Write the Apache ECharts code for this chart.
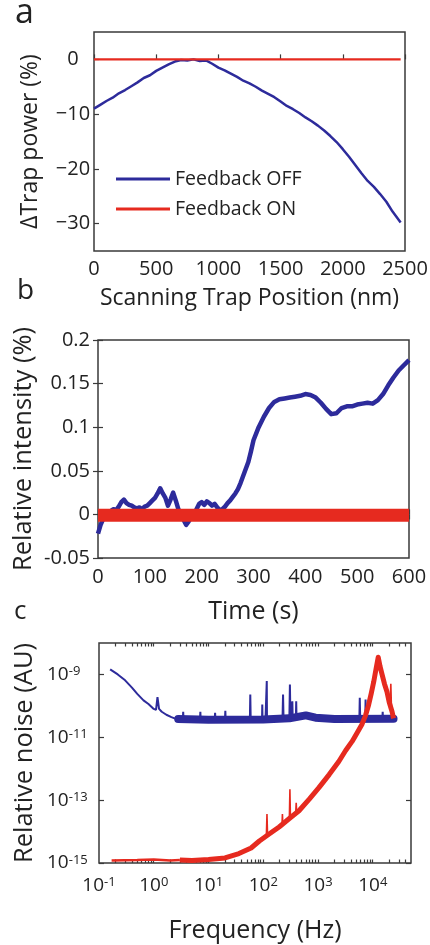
<!DOCTYPE html>
<html><head><meta charset="utf-8">
<script src="https://cdn.jsdelivr.net/npm/echarts@6/dist/echarts.min.js"></script>
<style>html,body{margin:0;padding:0;background:#fff}#c{width:430px;height:945px}</style>
</head><body><div id="c"></div>
<script>
// ---------- Panel a ----------
const posA = [0,50,100,150,200,250,300,350,400,450,500,550,600,650,700,750,800,850,900,950,1000,1050,1100,1150,1200,1250,1300,1350,1400,1450,1500,1550,1600,1650,1700,1750,1800,1850,1900,1950,2000,2050,2100,2150,2200,2250,2300,2350,2400,2465];
const offA = [-9.0,-8.3,-7.6,-7.0,-6.2,-5.6,-4.9,-4.2,-3.4,-2.9,-2.1,-1.5,-0.9,-0.4,-0.1,-0.2,0.0,-0.3,-0.2,-0.8,-1.5,-2.0,-2.6,-3.2,-3.9,-4.4,-5.0,-5.7,-6.3,-6.9,-7.7,-8.5,-9.1,-9.8,-10.6,-11.3,-12.1,-13.0,-14.0,-15.1,-16.4,-17.8,-19.3,-20.8,-22.2,-23.3,-24.6,-26.0,-27.8,-29.8];
const posOnA = [0, 2465];
const onA = [0, 0];
const xTicksA = [0,500,1000,1500,2000,2500];
const yTicksA = [-30,-20,-10,0];

// ---------- Panel b ----------
const timeB = [0,5,10,15,20,25,30,35,40,45,50,55,60,65,70,75,80,85,90,95,100,105,110,115,120,125,130,135,140,145,150,155,160,165,170,175,180,185,190,195,200,205,210,215,220,225,230,235,240,245,250,255,260,265,270,275,280,285,290,295,300,310,320,330,340,350,360,370,380,390,400,410,420,430,440,450,460,470,480,490,500,510,520,530,540,550,560,570,580,590,600];
const offB = [-0.022,-0.012,-0.005,-0.002,0.002,0.004,0.006,0.005,0.009,0.014,0.017,0.013,0.011,0.010,0.008,0.007,0.008,0.006,0.009,0.010,0.013,0.016,0.019,0.024,0.030,0.024,0.019,0.010,0.017,0.025,0.016,0.006,0.001,-0.006,-0.012,-0.008,-0.003,-0.002,0.006,0.012,0.014,0.011,0.015,0.013,0.010,0.012,0.008,0.005,0.006,0.009,0.013,0.016,0.020,0.024,0.029,0.036,0.044,0.052,0.060,0.072,0.085,0.100,0.112,0.122,0.129,0.132,0.133,0.134,0.135,0.136,0.138,0.137,0.134,0.128,0.121,0.115,0.116,0.122,0.124,0.124,0.126,0.127,0.128,0.127,0.131,0.138,0.148,0.157,0.165,0.171,0.177];
const timeOnB = [0, 600];
const onB = [-0.001, -0.001];

// ---------- Panel c ----------
// [frequency Hz, relative noise]
const offC = [[0.16,1.45e-9],[0.22,1.0e-9],[0.3,6.5e-10],[0.4,3.8e-10],[0.5,2.4e-10],[0.65,1.5e-10],[0.8,1.15e-10],[1.0,8e-11],[1.1,7.5e-11],[1.17,1.9e-10],[1.25,8e-11],[1.4,6.5e-11],[1.7,5.2e-11],[2.1,4.4e-11],[2.6,3.8e-11],[3.0,3.6e-11],[3.4,3.7e-11],[3.45,6.5e-11],[3.5,3.7e-11],[5,3.6e-11],[7,3.7e-11],[7.1,6.5e-11],[7.2,3.6e-11],[10,3.6e-11],[13,3.7e-11],[13.2,6e-11],[13.4,3.6e-11],[20,3.7e-11],[20.3,7e-11],[20.6,3.6e-11],[30,3.6e-11],[40,3.7e-11],[57,3.7e-11],[58,2.3e-10],[59,3.7e-11],[80,3.8e-11],[95,3.7e-11],[96,1.1e-10],[97,3.7e-11],[110,3.8e-11],[115,3.8e-11],[116,6.2e-10],[117,3.8e-11],[150,3.8e-11],[225,3.8e-11],[230,2.3e-10],[235,3.8e-11],[270,3.8e-11],[300,4e-11],[307,4.8e-10],[314,4e-11],[335,4.2e-11],[340,1.4e-10],[345,4.2e-11],[395,4.4e-11],[400,1.4e-10],[405,4.4e-11],[500,5e-11],[600,5.5e-11],[700,5.2e-11],[900,4.4e-11],[1500,3.9e-11],[3000,3.8e-11],[5700,3.8e-11],[5800,1.8e-10],[5900,3.8e-11],[7300,3.8e-11],[7400,1.6e-10],[7500,3.8e-11],[12000,3.8e-11],[15000,3.9e-11],[15200,6.5e-11],[15400,3.9e-11],[20000,3.9e-11],[24000,3.9e-11]];
const offFloorC = [[2.8,3.8e-11],[10,3.6e-11],[100,3.7e-11],[300,4e-11],[600,5e-11],[900,4.2e-11],[2000,3.8e-11],[24000,3.9e-11]];
const onLowC = [[0.17,1.2e-15],[0.5,1.25e-15],[1,1.3e-15],[2,1.2e-15],[3,1.25e-15]];
const onC = [[3,1.25e-15],[5,1.2e-15],[10,1.3e-15],[20,1.45e-15],[36,2e-15],[60,3e-15],[85,5e-15],[130,8.5e-15],[195,1.4e-14],[300,2.6e-14],[450,4.6e-14],[700,1.1e-13],[1040,2.5e-13],[1600,6.5e-13],[2400,1.7e-12],[3200,3.8e-12],[4200,7.4e-12],[5200,1.4e-11],[6300,2.5e-11],[7400,5e-11],[8400,1.07e-10],[9400,2.5e-10],[10400,5.7e-10],[11500,1.5e-9],[12600,3.5e-9],[13600,1.8e-9],[14800,1e-9],[16400,5e-10],[18200,2.8e-10],[20000,1.3e-10],[22500,6.6e-11],[24000,4e-11]];
const onSpikesC = [[114,7e-15],[117,3.6e-14],[120,7.5e-15],[170,null],[220,1.6e-14],[224,3.6e-14],[228,1.7e-14],[260,null],[300,2.5e-14],[307,2.2e-13],[314,2.7e-14],[350,null],[392,3.9e-14],[400,8.3e-14],[408,4.1e-14],[1000,null],[20800,1.1e-10],[21400,5e-10],[22000,8e-11]];
const xMinorC = [0.2,0.3,0.4,0.5,0.6,0.7,0.8,0.9,1,2,3,4,5,6,7,8,9,10,20,30,40,50,60,70,80,90,100,200,300,400,500,600,700,800,900,1000,2000,3000,4000,5000,6000,7000,8000,9000,10000,20000,30000,40000];
const yTicksC = [1e-15,1e-13,1e-11,1e-9];

const FONT = '"Open Sans", "Noto Sans", sans-serif';
const BLUE = '#2d2b9b', RED = '#e62a1f', INK = '#222', FRAME = '#3a3a3a';
const zip = (xs, ys) => xs.map((x, i) => [x, ys[i]]);

const tick = (extra) => Object.assign({show: true, inside: true, length: 5, lineStyle: {color: FRAME, width: 1.2}}, extra || {});
const noLine = {show: false};
const noSplit = {show: false};
const nameStyle = (s) => ({fontSize: s, color: INK, fontFamily: FONT});
const labStyle = {fontSize: 20, color: INK, fontFamily: FONT};

const supFmt = (v) => {
  const l = Math.log10(v); const e = Math.round(l);
  if (Math.abs(l - e) > 1e-6) return '';
  return '{b|10}{s|' + e + '}';
};
const supFmtOdd = (v) => {
  const l = Math.log10(v); const e = Math.round(l);
  if (Math.abs(l - e) > 1e-6 || e % 2 === 0) return '';
  return '{b|10}{s|' + e + '}';
};
const rich = {
  b: {fontSize: 19, lineHeight: 19, verticalAlign: 'bottom', color: INK, fontFamily: FONT},
  s: {fontSize: 13, lineHeight: 13, verticalAlign: 'top', padding: [0, 0, 12, 0], color: INK, fontFamily: FONT}
};
const gridBase = {show: true, borderColor: FRAME, borderWidth: 1.5, backgroundColor: 'transparent', containLabel: false, outerBoundsMode: 'none'};

const option = {
  animation: false,
  backgroundColor: '#fff',
  textStyle: {fontFamily: FONT},
  grid: [
    Object.assign({left: 94, top: 32, width: 311, height: 219}, gridBase),
    Object.assign({left: 98, top: 340, width: 311, height: 218}, gridBase),
    Object.assign({left: 99, top: 643, width: 312, height: 220}, gridBase)
  ],
  legend: {
    data: ['Feedback OFF', 'Feedback ON'], orient: 'vertical', left: 116, top: 169,
    itemWidth: 54, itemHeight: 3, icon: 'rect', itemGap: 10, padding: 0,
    textStyle: {fontSize: 19.5, color: INK, fontFamily: FONT}
  },
  graphic: [
    {type: 'text', left: 15, top: -4, style: {text: 'a', fontSize: 34, fontFamily: FONT, fill: INK}},
    {type: 'text', left: 17, top: 277, style: {text: 'b', fontSize: 28, fontFamily: FONT, fill: INK}},
    {type: 'text', left: 14, top: 599, style: {text: 'c', fontSize: 26, fontFamily: FONT, fill: INK}}
  ],
  xAxis: [
    {gridIndex: 0, type: 'value', min: 0, max: 2500, interval: 500, axisLine: noLine, splitLine: noSplit,
     axisTick: tick({customValues: xTicksA}),
     axisLabel: Object.assign({margin: 8, customValues: xTicksA, formatter: v => String(v)}, labStyle),
     name: 'Scanning Trap Position (nm)', nameLocation: 'middle', nameGap: 35.5, nameMoveOverlap: false, nameTextStyle: nameStyle(23)},
    {gridIndex: 1, type: 'value', min: 0, max: 600, interval: 100, position: 'bottom', axisLine: noLine, splitLine: noSplit,
     axisTick: tick(), axisLabel: Object.assign({margin: 9, formatter: v => String(v)}, labStyle),
     name: 'Time (s)', nameLocation: 'middle', nameGap: 41.5, nameMoveOverlap: false, nameTextStyle: nameStyle(25)},
    {gridIndex: 1, type: 'value', min: 0, max: 600, interval: 100, position: 'top', axisLine: noLine, splitLine: noSplit,
     axisTick: tick(), axisLabel: {show: false}},
    {gridIndex: 2, type: 'log', logBase: 10, min: 0.1, max: 5e4, position: 'bottom', axisLine: noLine, splitLine: noSplit,
     axisTick: tick({length: 3.5, customValues: xMinorC}), axisLabel: Object.assign({margin: 13, formatter: supFmt, rich: rich}, labStyle),
     name: 'Frequency (Hz)', nameLocation: 'middle', nameGap: 55.5, nameMoveOverlap: false, nameTextStyle: nameStyle(25)},
    {gridIndex: 2, type: 'log', logBase: 10, min: 0.1, max: 5e4, position: 'top', axisLine: noLine, splitLine: noSplit,
     axisTick: tick({length: 3.5, customValues: xMinorC}), axisLabel: {show: false}}
  ],
  yAxis: [
    {gridIndex: 0, type: 'value', min: -35, max: 5, axisLine: noLine, splitLine: noSplit,
     axisTick: tick({customValues: yTicksA}),
     axisLabel: Object.assign({margin: 21, align: 'center', customValues: yTicksA, formatter: v => String(v).replace('-', '\u2212')}, labStyle),
     name: '\u0394Trap power (%)', nameLocation: 'middle', nameRotate: 90, nameGap: 52.5, nameMoveOverlap: false, nameTextStyle: nameStyle(23)},
    {gridIndex: 1, type: 'value', min: -0.05, max: 0.2, interval: 0.05, position: 'left', axisLine: noLine, splitLine: noSplit,
     axisTick: tick(), axisLabel: Object.assign({margin: 8}, labStyle),
     name: 'Relative intensity (%)', nameLocation: 'middle', nameRotate: 90, nameGap: 61, nameMoveOverlap: false, nameTextStyle: nameStyle(25.5)},
    {gridIndex: 1, type: 'value', min: -0.05, max: 0.2, interval: 0.05, position: 'right', axisLine: noLine, splitLine: noSplit,
     axisTick: tick(), axisLabel: {show: false}},
    {gridIndex: 2, type: 'log', logBase: 10, min: 1e-15, max: 1e-8, position: 'left', axisLine: noLine, splitLine: noSplit,
     axisTick: tick({customValues: yTicksC}), axisLabel: Object.assign({margin: 52, align: 'left', formatter: supFmtOdd, rich: rich}, labStyle),
     name: 'Relative noise (AU)', nameLocation: 'middle', nameRotate: 90, nameGap: 61, nameMoveOverlap: false, nameTextStyle: nameStyle(25.5)},
    {gridIndex: 2, type: 'log', logBase: 10, min: 1e-15, max: 1e-8, position: 'right', axisLine: noLine, splitLine: noSplit,
     axisTick: tick({customValues: yTicksC}), axisLabel: {show: false}}
  ],
  series: [
    {name: 'Feedback OFF', type: 'line', xAxisIndex: 0, yAxisIndex: 0, data: zip(posA, offA), showSymbol: false, symbol: 'none',
     lineStyle: {color: BLUE, width: 2.5}, itemStyle: {color: BLUE}},
    {name: 'Feedback ON', type: 'line', xAxisIndex: 0, yAxisIndex: 0, data: zip(posOnA, onA), showSymbol: false, symbol: 'none',
     lineStyle: {color: RED, width: 2.4}, itemStyle: {color: RED}},

    {name: 'b OFF', type: 'line', xAxisIndex: 1, yAxisIndex: 1, data: zip(timeB, offB), symbol: 'none',
     lineStyle: {color: BLUE, width: 4.5, join: 'round'}},
    {name: 'b ON', type: 'line', xAxisIndex: 1, yAxisIndex: 1, data: zip(timeOnB, onB), symbol: 'none',
     lineStyle: {color: RED, width: 13, cap: 'butt'}},

    {name: 'c OFF floor', type: 'line', xAxisIndex: 3, yAxisIndex: 3, data: offFloorC, symbol: 'none',
     lineStyle: {color: BLUE, width: 8, cap: 'round'}},
    {name: 'c OFF', type: 'line', xAxisIndex: 3, yAxisIndex: 3, data: offC, symbol: 'none',
     lineStyle: {color: BLUE, width: 2}},
    {name: 'c ON low', type: 'line', xAxisIndex: 3, yAxisIndex: 3, data: onLowC, symbol: 'none',
     lineStyle: {color: RED, width: 2.5}},
    {name: 'c ON', type: 'line', xAxisIndex: 3, yAxisIndex: 3, data: onC, symbol: 'none',
     lineStyle: {color: RED, width: 5, join: 'round'}},
    {name: 'c ON spikes', type: 'line', xAxisIndex: 3, yAxisIndex: 3, data: onSpikesC, symbol: 'none', connectNulls: false,
     lineStyle: {color: RED, width: 1.6}}
  ]
};
const chart = echarts.init(document.getElementById('c'), null, {renderer: 'canvas'});
chart.setOption(option);
</script></body></html>
